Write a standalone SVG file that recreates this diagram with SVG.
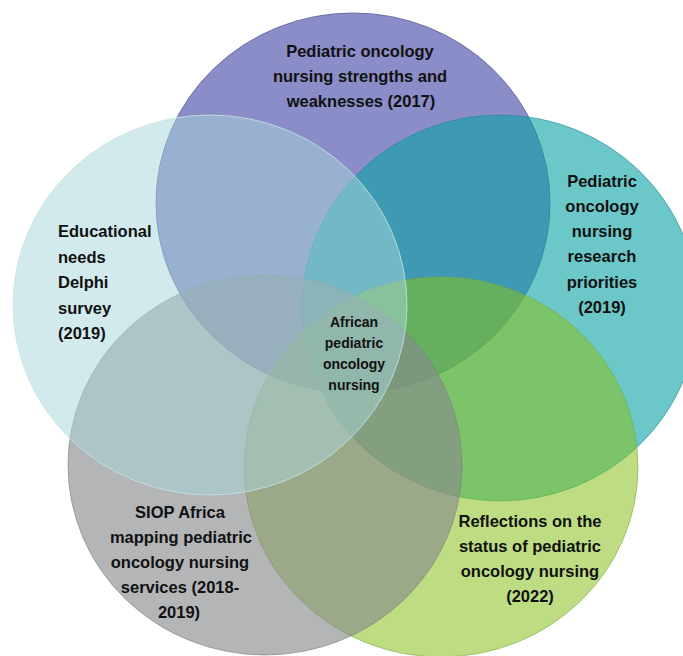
<svg xmlns="http://www.w3.org/2000/svg" width="683" height="656" viewBox="0 0 683 656">
  <style>
    .lbl { font-family: "Liberation Sans", Arial, sans-serif; font-weight: bold; font-size: 16.5px; fill: #111; }
    .mid { text-anchor: middle; }
    .ctr { font-family: "Liberation Sans", Arial, sans-serif; font-weight: bold; font-size: 14px; fill: #111; text-anchor: middle; }
    .c-purple { fill: #8A8DC7; stroke: #6A6DA8; stroke-width: 1; }
    .c-teal { fill: #0AA3A3; fill-opacity: 0.6; stroke: #1B8A8F; stroke-opacity: 0.6; stroke-width: 1; }
    .c-green { fill: #89C11C; fill-opacity: 0.55; stroke: #79A83A; stroke-opacity: 0.6; stroke-width: 1; }
    .c-gray { fill: #888A8D; fill-opacity: 0.63; stroke: #7C7E82; stroke-opacity: 0.6; stroke-width: 1; }
    .c-light { fill: #A7D5D9; fill-opacity: 0.5; stroke: #C8E4E6; stroke-opacity: 0.8; stroke-width: 1; }
  </style>
  <rect x="0" y="0" width="683" height="656" fill="#FFFFFF"/>

  <g id="node-strengths">
    <ellipse class="c-purple" cx="353" cy="203" rx="197" ry="190"/>
    <text class="lbl mid" x="360" y="57">Pediatric oncology</text>
    <text class="lbl mid" x="360" y="82">nursing strengths and</text>
    <text class="lbl mid" x="361" y="107">weaknesses (2017)</text>
  </g>

  <g id="node-research">
    <ellipse class="c-teal" cx="500" cy="308" rx="198" ry="193"/>
    <text class="lbl mid" x="602" y="187">Pediatric</text>
    <text class="lbl mid" x="602" y="212">oncology</text>
    <text class="lbl mid" x="602" y="237">nursing</text>
    <text class="lbl mid" x="602" y="262">research</text>
    <text class="lbl mid" x="602" y="288">priorities</text>
    <text class="lbl mid" x="602" y="313">(2019)</text>
  </g>

  <g id="node-reflections">
    <ellipse class="c-green" cx="441" cy="467" rx="197" ry="190"/>
    <text class="lbl mid" x="530" y="527">Reflections on the</text>
    <text class="lbl mid" x="530" y="552">status of pediatric</text>
    <text class="lbl mid" x="530" y="577">oncology nursing</text>
    <text class="lbl mid" x="530" y="602">(2022)</text>
  </g>

  <g id="node-mapping">
    <ellipse class="c-gray" cx="265" cy="465" rx="197" ry="190"/>
    <text class="lbl mid" x="180" y="518">SIOP Africa</text>
    <text class="lbl mid" x="181" y="543">mapping pediatric</text>
    <text class="lbl mid" x="180" y="568">oncology nursing</text>
    <text class="lbl mid" x="180" y="593">services (2018-</text>
    <text class="lbl mid" x="179" y="618">2019)</text>
  </g>

  <g id="node-delphi">
    <ellipse class="c-light" cx="210" cy="305" rx="197" ry="190"/>
    <text class="lbl" x="58" y="237">Educational</text>
    <text class="lbl" x="58" y="263">needs</text>
    <text class="lbl" x="58" y="288">Delphi</text>
    <text class="lbl" x="58" y="314">survey</text>
    <text class="lbl" x="58" y="339">(2019)</text>
  </g>

  <g id="node-center">
    <text class="ctr" x="354" y="327">African</text>
    <text class="ctr" x="354" y="348">pediatric</text>
    <text class="ctr" x="354" y="369">oncology</text>
    <text class="ctr" x="354" y="390">nursing</text>
  </g>
</svg>
